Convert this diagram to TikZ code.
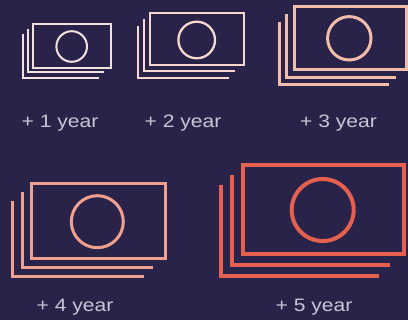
\documentclass[tikz,border=0pt]{standalone}
\usepackage{fontspec}
\setmainfont{Liberation Sans}[FakeStretch=1.17]
\definecolor{bg}{HTML}{29234A}
\definecolor{txt}{HTML}{C9C5D3}
\definecolor{ca}{HTML}{F3E2DE}
\definecolor{cb}{HTML}{F7D8CF}
\definecolor{cc}{HTML}{F3BDAC}
\definecolor{cd}{HTML}{EFA08F}
\definecolor{ce}{HTML}{E5604F}
\tikzset{
  lbl/.style={anchor=base west, inner sep=0pt, text=txt, font=\fontsize{18}{20}\selectfont},
  bill/.style={line cap=butt, line join=miter}
}
\begin{document}
\begin{tikzpicture}[x=1pt,y=-1pt]
\fill[bg] (0,0) rectangle (408,320);
\useasboundingbox (0,0) rectangle (408,320);
% icon 1
\begin{scope}[bill, draw=ca, line width=2pt]
\draw (33,24.3) rectangle (110.7,68.3);
\draw (71.7,46.5) circle (15.3);
\draw (27.7,29.3) -- (27.7,72.3) -- (104.3,72.3);
\draw (22.7,34.3) -- (22.7,78.3) -- (99,78.3);
\end{scope}
% icon 2
\begin{scope}[bill, draw=cb, line width=2.3pt]
\draw (150,13.3) rectangle (243.7,65.3);
\draw (196.7,40) circle (18.3);
\draw (144,19.3) -- (144,71.3) -- (235.3,71.3);
\draw (138,25.7) -- (138,78.3) -- (228.7,78.3);
\end{scope}
% icon 3
\begin{scope}[bill, draw=cc, line width=3pt]
\draw (294.7,6.7) rectangle (406.3,70);
\draw (349.3,38.3) circle (21.7);
\draw (286.7,14) -- (286.7,77.3) -- (396.3,77.3);
\draw (279.3,22) -- (279.3,84.3) -- (389.3,84.3);
\end{scope}
% icon 4
\begin{scope}[bill, draw=cd, line width=3pt]
\draw (31,183.3) rectangle (165.3,258.7);
\draw (97.3,221.7) circle (26);
\draw (22,192) -- (22,267.7) -- (153.3,267.7);
\draw (12.7,201.3) -- (12.7,277) -- (144,277);
\end{scope}
% icon 5
\begin{scope}[bill, draw=ce, line width=4pt]
\draw (243.3,164.7) rectangle (404,254);
\draw (322.7,210) circle (31);
\draw (232.3,174.7) -- (232.3,265.3) -- (390,265.3);
\draw (221,185.3) -- (221,276.3) -- (379,276.3);
\end{scope}
% labels
\node[lbl] (y1) at (21.5,128) {+ 1 year};
\node[lbl] (y2) at (144.5,128) {+ 2 year};
\node[lbl] (y3) at (300,128) {+ 3 year};
\node[lbl] (y4) at (36.5,312) {+ 4 year};
\node[lbl] (y5) at (275.5,312) {+ 5 year};
\end{tikzpicture}
\end{document}
